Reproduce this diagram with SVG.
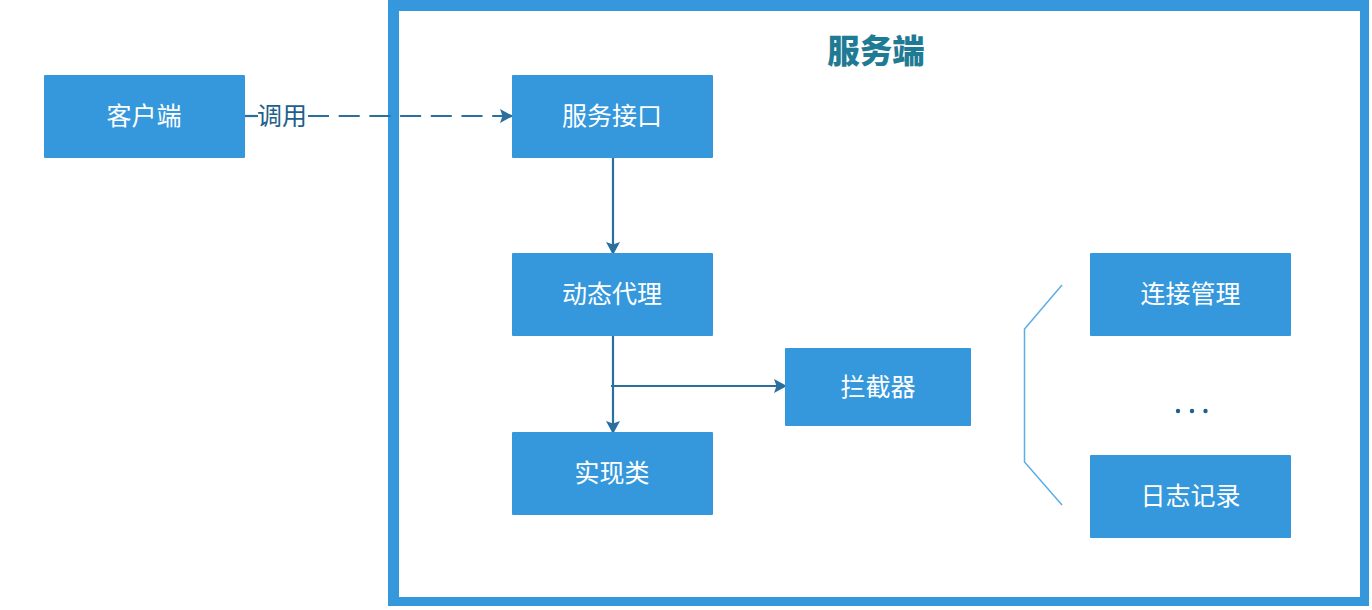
<svg xmlns="http://www.w3.org/2000/svg" width="1372" height="610" viewBox="0 0 1372 610">
<style>
.n{fill:#3598dc}
.t{font-family:"Noto Sans CJK SC","Liberation Sans",sans-serif;font-size:25px;fill:#fff;text-anchor:middle}
.c{fill:none;stroke:#2b6f9f;stroke-width:2.2}
.b{fill:none;stroke:#5aaee6;stroke-width:1.5}
</style>
<defs><marker id="a" markerUnits="userSpaceOnUse" markerWidth="14" markerHeight="14" refX="12" refY="7" orient="auto"><path d="M0 0L13 7L0 14L2.500 7Z" fill="#2b6f9f"/></marker></defs>
<rect width="1372" height="610" fill="#fff"/>
<g id="server"><path fill="#3598dc" fill-rule="evenodd" d="M388 0H1369V606H388ZM399 11V597H1360V11Z"/>
<text x="876" y="63" style="font-family:'Noto Sans CJK SC',sans-serif;font-size:32.500px;font-weight:900;fill:#1f7a93;text-anchor:middle">服务端</text></g>
<g id="connectors">
<path class="c" d="M245 116H258"/>
<path class="c" d="M308 116H512" stroke-dasharray="21 9.700" marker-end="url(#a)"/>
<path class="c" d="M613 157V254" marker-end="url(#a)"/>
<path class="c" d="M613 336V433" marker-end="url(#a)"/>
<path class="c" d="M611 386H786" marker-end="url(#a)"/>
<path class="b" d="M1062 285L1024.500 329V462L1062 505"/>
</g>
<g id="client"><rect class="n" x="44" y="75" width="201" height="83" rx="1"/><text class="t" x="144" y="125">客户端</text></g>
<g id="call"><text x="282" y="125" style="font-family:'Noto Sans CJK SC',sans-serif;font-size:25px;fill:#1f5f8b;text-anchor:middle">调用</text></g>
<g id="iface"><rect class="n" x="512" y="75" width="201" height="83" rx="1"/><text class="t" x="612" y="125">服务接口</text></g>
<g id="proxy"><rect class="n" x="512" y="253" width="201" height="83" rx="1"/><text class="t" x="612" y="303">动态代理</text></g>
<g id="impl"><rect class="n" x="512" y="432" width="201" height="83" rx="1"/><text class="t" x="612" y="482">实现类</text></g>
<g id="interceptor"><rect class="n" x="785" y="348" width="186" height="78" rx="1"/><text class="t" x="878" y="396">拦截器</text></g>
<g id="conn"><rect class="n" x="1090" y="253" width="201" height="83" rx="1"/><text class="t" x="1190.500" y="303">连接管理</text></g>
<g id="dots" fill="#1f5f8b"><circle cx="1178" cy="411" r="2.200"/><circle cx="1192" cy="411" r="2.200"/><circle cx="1205.500" cy="411" r="2.200"/></g>
<g id="log"><rect class="n" x="1090" y="455" width="201" height="83" rx="1"/><text class="t" x="1190.500" y="505">日志记录</text></g>
</svg>
